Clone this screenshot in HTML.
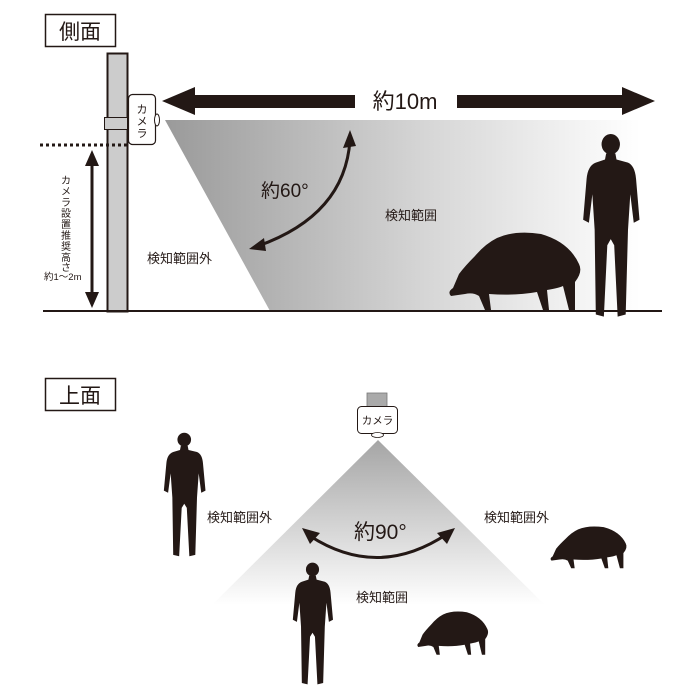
<!DOCTYPE html>
<html><head><meta charset="utf-8"><style>
body{margin:0;background:#fff}
svg{display:block}
text{font-family:"Liberation Sans","Noto Sans CJK JP",sans-serif;fill:#231815}
</style></head><body>
<svg width="700" height="700" viewBox="0 0 700 700" xmlns="http://www.w3.org/2000/svg">
<defs>
<linearGradient id="g1" x1="0" y1="0" x2="1" y2="0">
<stop offset="0" stop-color="#9a9a9a"/><stop offset="0.55" stop-color="#d6d6d6"/><stop offset="1" stop-color="#fff"/>
</linearGradient>
<linearGradient id="g2" x1="0" y1="0" x2="0" y2="1">
<stop offset="0" stop-color="#a5a5a5"/><stop offset="1" stop-color="#fff"/>
</linearGradient>
<g id="man">
<ellipse cx="25" cy="11" rx="8" ry="10"/>
<path d="M21 20 L29 20 L30 26 L40 29 Q46 32 47 45 L50 85 L45 88 L42 60 L40 95 L38 178 L31 180 L28 110 L25 104 L22 110 L19 180 L12 178 L11 95 L9 60 L6 88 L1 85 L4 45 Q5 32 12 29 L20 26 Z"/>
</g>
<g id="boar">
<path d="M8 58 Q2 62 6 66 L20 64 Q28 62 34 66 L40 80 L46 80 L44 64 Q70 66 92 62 L98 80 L104 80 L102 60 Q114 58 118 56 L124 80 L130 80 L130 52 Q138 42 134 34 Q124 12 96 4 Q70 0 52 8 Q40 14 30 26 Q20 36 14 44 Z"/>
</g>
</defs>

<rect x="45.5" y="14.5" width="70" height="32" fill="#fff" stroke="#231815" stroke-width="1.5"/>
<text x="80" y="39" font-size="21" text-anchor="middle">側面</text>

<polygon points="165,120 640,120 640,311 270,311" fill="url(#g1)"/>

<rect x="107.5" y="53.5" width="20" height="258" fill="#ccc" stroke="#231815" stroke-width="2"/>
<rect x="104.5" y="117.5" width="23" height="12" fill="#ccc" stroke="#231815" stroke-width="1"/>
<rect x="128.5" y="94.5" width="27" height="50" rx="4" fill="#fff" stroke="#231815" stroke-width="1.2"/>
<ellipse cx="157" cy="120" rx="2.5" ry="6" fill="#fff" stroke="#231815" stroke-width="1"/>
<g font-size="11" text-anchor="middle">
<text x="142" y="113">カ</text><text x="142" y="125">メ</text><text x="142" y="137">ラ</text>
</g>

<line x1="40" y1="145" x2="128" y2="145" stroke="#231815" stroke-width="3" stroke-dasharray="3,3"/>
<line x1="92" y1="160" x2="92" y2="298" stroke="#231815" stroke-width="3"/>
<polygon points="92,150 85,166 99,166" fill="#231815"/>
<polygon points="92,308 85,292 99,292" fill="#231815"/>
<g font-size="10" text-anchor="middle">
<text x="66" y="184">カ</text><text x="66" y="195">メ</text><text x="66" y="206">ラ</text><text x="66" y="217">設</text><text x="66" y="228">置</text><text x="66" y="239">推</text><text x="66" y="250">奨</text><text x="66" y="261">高</text><text x="66" y="271">さ</text>
</g>
<text x="44" y="280" font-size="9.5">約1〜2m</text>

<line x1="43" y1="311" x2="662" y2="311" stroke="#231815" stroke-width="2"/>

<rect x="185" y="95" width="170" height="13" fill="#231815"/>
<rect x="457" y="95" width="175" height="13" fill="#231815"/>
<polygon points="162,101 195,87 195,115" fill="#231815"/>
<polygon points="655,101 622,87 622,115" fill="#231815"/>
<text x="405" y="109" font-size="22" text-anchor="middle">約10m</text>

<text x="261" y="197" font-size="19">約60°</text>
<path d="M350 140 Q345 215 258 246" fill="none" stroke="#231815" stroke-width="3"/>
<polygon points="350,130 343,148 356,146" fill="#231815"/>
<polygon points="249,249 264,238 266,251" fill="#231815"/>
<text x="385" y="220" font-size="13">検知範囲</text>
<text x="147" y="263" font-size="13">検知範囲外</text>

<use href="#boar" transform="translate(445,230)" fill="#231815"/>
<use href="#man" transform="translate(582,133) scale(1.15,1.02)" fill="#231815"/>

<rect x="45.5" y="378.5" width="70" height="32" fill="#fff" stroke="#231815" stroke-width="1.5"/>
<text x="80" y="403" font-size="21" text-anchor="middle">上面</text>

<polygon points="378,440 212,605 545,605" fill="url(#g2)"/>
<rect x="367" y="393" width="20" height="14" fill="#aaa" stroke="#777" stroke-width="0.8"/>
<rect x="357.5" y="406.5" width="40" height="27" rx="4" fill="#fff" stroke="#231815" stroke-width="1"/>
<text x="377.5" y="424" font-size="10.5" text-anchor="middle">カメラ</text>
<ellipse cx="377.5" cy="435" rx="6" ry="2.5" fill="#fff" stroke="#231815" stroke-width="0.8"/>

<text x="354" y="539" font-size="21">約90°</text>
<path d="M310 536 Q378 580 447 534" fill="none" stroke="#231815" stroke-width="3"/>
<polygon points="302,528 320,533 310,544" fill="#231815"/>
<polygon points="455,528 447,544 437,533" fill="#231815"/>
<text x="207" y="522" font-size="13">検知範囲外</text>
<text x="484" y="522" font-size="13">検知範囲外</text>
<text x="356" y="602" font-size="13">検知範囲</text>

<use href="#man" transform="translate(163,432) scale(0.85,0.69)" fill="#231815"/>
<use href="#man" transform="translate(292,562) scale(0.82,0.68)" fill="#231815"/>
<use href="#boar" transform="translate(548,525) scale(0.58,0.54)" fill="#231815"/>
<use href="#boar" transform="translate(415,610) scale(0.54,0.56)" fill="#231815"/>
</svg>
</body></html>
